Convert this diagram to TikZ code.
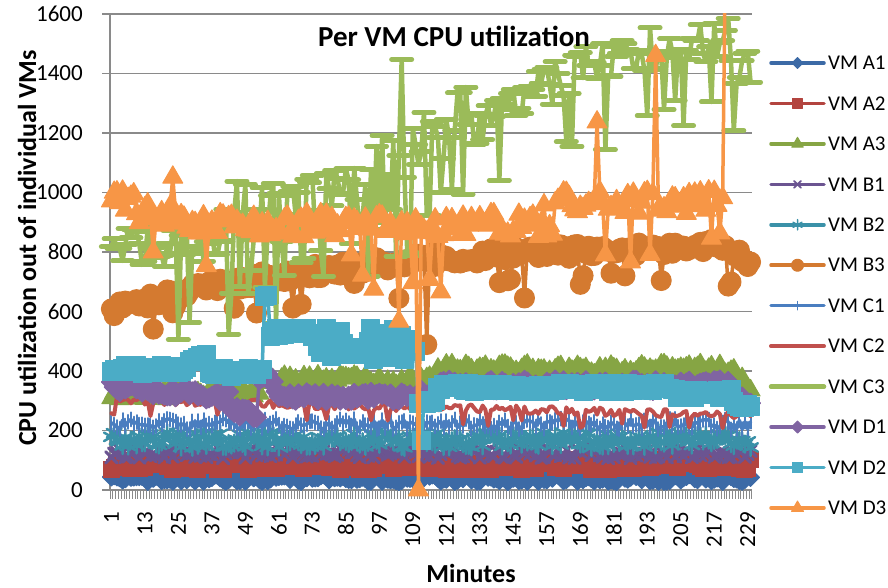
\documentclass[tikz,border=0pt]{standalone}
\usepackage{fontspec}
\setmainfont{Carlito}
\usetikzlibrary{plotmarks}

% series colours
\definecolor{cA1}{HTML}{3C6AA6}
\definecolor{cA2}{HTML}{B3443F}
\definecolor{cA3}{HTML}{86A544}
\definecolor{cB1}{HTML}{6B5491}
\definecolor{cB2}{HTML}{3A91A8}
\definecolor{cB3}{HTML}{D47A30}
\definecolor{cC1}{HTML}{4A7EC0}
\definecolor{cC2}{HTML}{C0504D}
\definecolor{cC3}{HTML}{9BBB59}
\definecolor{cD1}{HTML}{8064A2}
\definecolor{cD2}{HTML}{4BACC6}
\definecolor{cD3}{HTML}{F79646}
\definecolor{gridgray}{HTML}{8A8A8A}

% square diamond marker (equal width and height)
\pgfdeclareplotmark{rdiamond}{%
  \pgfpathmoveto{\pgfqpoint{0pt}{\pgfplotmarksize}}%
  \pgfpathlineto{\pgfqpoint{\pgfplotmarksize}{0pt}}%
  \pgfpathlineto{\pgfqpoint{0pt}{-\pgfplotmarksize}}%
  \pgfpathlineto{\pgfqpoint{-\pgfplotmarksize}{0pt}}%
  \pgfpathclose\pgfusepathqfillstroke}

% build a coordinate list (\i, value) for \i = 1..#2
\newcommand\mkseries[3]{%
  \gdef#1{}%
  \foreach \i in {1,...,#2}{%
    \pgfmathsetmacro\v{#3}%
    \xdef#1{#1(\i,\v)}}}
\newcommand\drawseries[2]{%
  \edef\dstmp{\noexpand\draw[#1] plot coordinates {#2};}\dstmp}
\def\msc{1}

\tikzset{
  ser/.style={line width=3.5pt, line join=round, line cap=round},
  fm/.style={mark options={solid, fill=#1, draw=#1, line width=1pt}},
  sA1/.style={ser, draw=cA1, mark=rdiamond, mark size=\msc*9pt, fm=cA1},
  sA2/.style={ser, draw=cA2, mark=square*, mark size=\msc*8pt, fm=cA2},
  sA3/.style={ser, draw=cA3, mark=triangle*, mark size=\msc*11pt, fm=cA3},
  sB1/.style={ser, draw=cB1, mark=x, mark size=\msc*8pt, mark options={draw=cB1, line width=\msc*3pt}},
  sB2/.style={ser, draw=cB2, mark=asterisk, mark size=\msc*8.5pt, mark options={draw=cB2, line width=\msc*2.5pt}},
  sB3/.style={ser, draw=cB3, mark=*, mark size=\msc*10pt, fm=cB3},
  sC1/.style={ser, draw=cC1, mark=|, mark size=\msc*7pt, mark options={draw=cC1, line width=\msc*2pt}},
  sC2/.style={ser, line width=4pt, draw=cC2},
  sC3/.style={ser, line width=4.5pt, draw=cC3, mark=-, mark size=\msc*10pt, mark options={draw=cC3, line width=5pt}},
  sD1/.style={ser, draw=cD1, mark=rdiamond, mark size=\msc*10pt, fm=cD1},
  sD2/.style={ser, draw=cD2, mark=square*, mark size=\msc*9pt, fm=cD2},
  sD3/.style={ser, draw=cD3, mark=triangle*, mark size=\msc*11.5pt, fm=cD3},
  gridln/.style={draw=gridgray, line width=1.6pt},
  tickln/.style={draw=gridgray, line width=0.9pt},
  ticklab/.style={font=\fontsize{23}{27}\selectfont, inner sep=0pt},
  legtext/.style={font=\fontsize{21}{25}\selectfont, inner sep=0pt, anchor=west},
  axtitle/.style={font=\bfseries\fontsize{26}{30}\selectfont, inner sep=0pt},
  charttitle/.style={font=\bfseries\fontsize{29}{33}\selectfont, inner sep=0pt},
}

% one legend row: index, style, label
\newcommand\legentry[3]{%
  \draw[#2, mark indices={2}] plot coordinates {(771,{524-#1*40.45}) (797.5,{524-#1*40.45}) (824,{524-#1*40.45})};
  \node[legtext] (leg#1) at (828,{524-#1*40.45}) {#3};}

\begin{document}
\begin{tikzpicture}[x=1pt,y=1pt]
\useasboundingbox (0,0) rectangle (888,587);
\fill[white] (0,0) rectangle (888,587);

% horizontal gridlines, y ticks and labels
\foreach \g in {0,...,8}{
  \pgfmathtruncatemacro\lab{\g*200}
  \draw[gridln] (102,97+\g*59.5) -- (752,97+\g*59.5);
  \node[ticklab, anchor=east] (yt\g) at (83,97+\g*59.5) {\lab};
}
\draw[gridln] (110,97) -- (110,573);

% category ticks and labels on the time axis
\foreach \k in {0,...,230}{\draw[tickln] (110+\k*2.791,97) -- (110+\k*2.791,88);}
\foreach \k in {1,13,...,229}{
  \node[ticklab, rotate=90, anchor=east] (xt\k) at (108.6045+\k*2.791,75) {\k};
}

% data series
\pgfmathsetseed{4242}
\mkseries{\datAi}{230}{40+12*rand}
\mkseries{\datAii}{230}{85+18*rand}
\mkseries{\datAiii}{230}{ifthenelse(\i<55,322,ifthenelse(\i<118,368,ifthenelse(\i<224,405,400-(\i-224)*12)))+18*rand}
\mkseries{\datBi}{230}{125+18*rand}
\mkseries{\datBii}{230}{168+25*rand}
\mkseries{\datBiii}{230}{600+240*(1-exp(-\i/90))+24*rand-(rnd<0.07)*(60+60*rnd)-(\i>222)*(\i-222)*8-(\i==114)*260-(\i==149)*150}
\mkseries{\datCi}{230}{222+18*rand}
\mkseries{\datCii}{230}{302-0.22*\i+14*rand-(rnd<0.07)*45}
\mkseries{\datCiii}{230}{800+740/(1+exp(-(\i-125)/28))+(75+125*(\i>40)*(\i<132))*rand-(rnd<0.08)*250-(\i>222)*90-(\i==107)*450+(\i==105)*220-(\i==103)*380+(\i==109)*180}
\mkseries{\datDi}{230}{ifthenelse(\i<44,352-0.9*\i,ifthenelse(\i<54,262,ifthenelse(\i<60,378,ifthenelse(\i<118,318,ifthenelse(\i<223,352,305)))))+18*rand}
\mkseries{\datDii}{230}{ifthenelse(\i<29,405,ifthenelse(\i<36,445,ifthenelse(\i<56,395,ifthenelse(\i<58,650,ifthenelse(\i<75,530,ifthenelse(\i<111,490,ifthenelse(\i<118,300,ifthenelse(\i<200,345,ifthenelse(\i<224,325,285)))))))))+(15+40*(\i>74)*(\i<111))*rand-(\i==112)*130}
\mkseries{\datDiii}{221}{(ifthenelse(\i<10,975,ifthenelse(\i<26,925,ifthenelse(\i<160,890,965)))+40*rand-(rnd<0.09)*(100+100*rnd)+(\i==23)*100-(\i==104)*300+(\i==156)*210+(\i==175)*290+(\i==196)*490-(\i==219)*110+(\i==221)*1000)*(1-(\i==111))}

\begin{scope}[shift={(108.6045pt,97pt)}, x=2.791pt, y=0.2975pt]
  \clip (-10,-200) rectangle (240,1600);
  \drawseries{sA1}{\datAi}
  \drawseries{sA2}{\datAii}
  \drawseries{sA3}{\datAiii}
  \drawseries{sB1}{\datBi}
  \drawseries{sB2}{\datBii}
  \drawseries{sB3}{\datBiii}
  \drawseries{sC1}{\datCi}
  \drawseries{sC2}{\datCii}
  \drawseries{sC3}{\datCiii}
  \drawseries{sD1}{\datDi}
  \drawseries{sD2}{\datDii}
  \drawseries{sD3}{\datDiii}
\end{scope}

% titles
\node[charttitle, anchor=base] (title) at (454,540) {Per VM CPU utilization};
\node[axtitle] (xtitle) at (471,14) {Minutes};
\node[axtitle, rotate=90] (ytitle) at (27,339) {CPU utilization out of individual VMs};

% legend
\def\msc{0.6}
\legentry{0}{sA1}{VM A1}
\legentry{1}{sA2}{VM A2}
\legentry{2}{sA3}{VM A3}
\legentry{3}{sB1}{VM B1}
\legentry{4}{sB2}{VM B2}
\legentry{5}{sB3}{VM B3}
\legentry{6}{sC1}{VM C1}
\legentry{7}{sC2}{VM C2}
\legentry{8}{sC3}{VM C3}
\legentry{9}{sD1}{VM D1}
\legentry{10}{sD2}{VM D2}
\legentry{11}{sD3}{VM D3}
\end{tikzpicture}
\end{document}
